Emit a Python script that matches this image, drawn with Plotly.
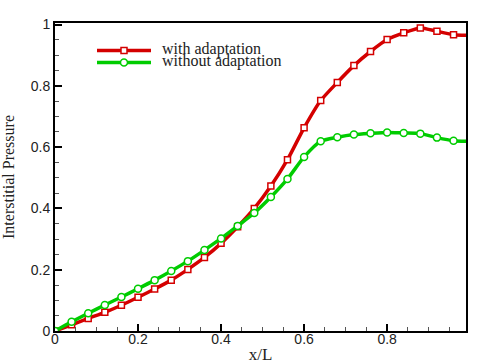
import plotly.graph_objects as go

x_vals = [0.00, 0.04, 0.08, 0.12, 0.16, 0.20, 0.24, 0.28, 0.32, 0.36, 0.40, 0.44,
          0.48, 0.52, 0.56, 0.60, 0.64, 0.68, 0.72, 0.76, 0.80, 0.84, 0.88, 0.92, 0.96, 1.00]
with_adapt = [0.000, 0.020, 0.041, 0.061, 0.084, 0.110, 0.137, 0.166, 0.201, 0.240, 0.286, 0.340,
              0.400, 0.473, 0.559, 0.663, 0.752, 0.811, 0.866, 0.912, 0.951, 0.973, 0.989, 0.978, 0.967, 0.965]
without_adapt = [0.000, 0.030, 0.058, 0.085, 0.111, 0.138, 0.166, 0.196, 0.228, 0.264, 0.302, 0.343,
                 0.385, 0.437, 0.496, 0.568, 0.619, 0.632, 0.641, 0.645, 0.648, 0.646, 0.644, 0.631, 0.621, 0.619]
series_names = ["with adaptation", "without adaptation"]

x_ticks = [0, 0.2, 0.4, 0.6, 0.8]
x_tick_labels = ["0", "0.2", "0.4", "0.6", "0.8"]
y_ticks = [0, 0.2, 0.4, 0.6, 0.8, 1.0]
y_tick_labels = ["0", "0.2", "0.4", "0.6", "0.8", "1"]

RED = "#d40000"
GREEN = "#00cc00"
SERIF = "Liberation Serif, Times New Roman, serif"
SANS = "Liberation Sans, Arial, sans-serif"

W, H = 481, 364
ML, MR, MT, MB = 55, 15, 23, 33
PW, PH = W - ML - MR, H - MT - MB


def px_to_paper(px, py):
    return (px - ML) / PW, (H - MB - py) / PH


fig = go.Figure()
fig.add_trace(go.Scatter(
    x=x_vals, y=with_adapt, name=series_names[0], mode="lines+markers",
    line=dict(color=RED, width=3.5, shape="spline", smoothing=0.6),
    marker=dict(symbol="square", size=6, color="white", line=dict(color=RED, width=1.5)),
))
fig.add_trace(go.Scatter(
    x=x_vals, y=without_adapt, name=series_names[1], mode="lines+markers",
    line=dict(color=GREEN, width=3.5, shape="spline", smoothing=0.6),
    marker=dict(symbol="circle", size=7, color="white", line=dict(color=GREEN, width=1.5)),
))

axis_common = dict(
    showgrid=False, zeroline=False, showline=True, linecolor="black", linewidth=2,
    mirror=True, ticks="inside", ticklen=7, tickwidth=2, tickcolor="black",
    tickfont=dict(family=SANS, size=14, color="#222"), automargin=False,
    minor=dict(ticks="inside", ticklen=4, tickwidth=1, tickcolor="#555", dtick=0.05, showgrid=False),
)

fig.update_xaxes(range=[0, 0.99], tickvals=x_ticks, ticktext=x_tick_labels,
                 ticklabelstandoff=-6,
                 title=dict(text="x/L", font=dict(family=SERIF, size=17, color="#222"), standoff=6),
                 **axis_common)
fig.update_yaxes(range=[0, 1.005], tickvals=y_ticks, ticktext=y_tick_labels,
                 title=dict(text="Interstitial Pressure", font=dict(family=SERIF, size=16, color="#222"), standoff=12),
                 **axis_common)

# manual legend (tight rows like the reference)
legend_rows = [(50.5, RED, "square", 6), (62.5, GREEN, "circle", 7)]
shapes = []
annotations = []
for (py, col, sym, msz), name in zip(legend_rows, series_names):
    x0, yy = px_to_paper(97, py)
    x1, _ = px_to_paper(151, py)
    xm, _ = px_to_paper(124, py)
    xt, _ = px_to_paper(160, py)
    shapes.append(dict(type="line", xref="paper", yref="paper", x0=x0, x1=x1, y0=yy, y1=yy,
                       line=dict(color=col, width=3.5)))
    shapes.append(dict(type="rect" if sym == "square" else "circle", xref="paper", yref="paper",
                       xsizemode="pixel", ysizemode="pixel", xanchor=xm, yanchor=yy,
                       x0=-msz / 2, x1=msz / 2, y0=-msz / 2, y1=msz / 2,
                       fillcolor="white", line=dict(color=col, width=1.5)))
    annotations.append(dict(text=name, xref="paper", yref="paper", x=xt, y=yy + 1.5 / PH,
                            xanchor="left", yanchor="middle", showarrow=False,
                            font=dict(family=SERIF, size=16, color="#222")))

fig.update_layout(
    width=W, height=H,
    margin=dict(l=ML, r=MR, t=MT, b=MB),
    plot_bgcolor="white", paper_bgcolor="white",
    showlegend=False,
    shapes=shapes, annotations=annotations,
)

fig.write_html("out.html", config={"displayModeBar": False},
               post_script="document.body.style.margin='0px';document.body.style.overflow='hidden';")
